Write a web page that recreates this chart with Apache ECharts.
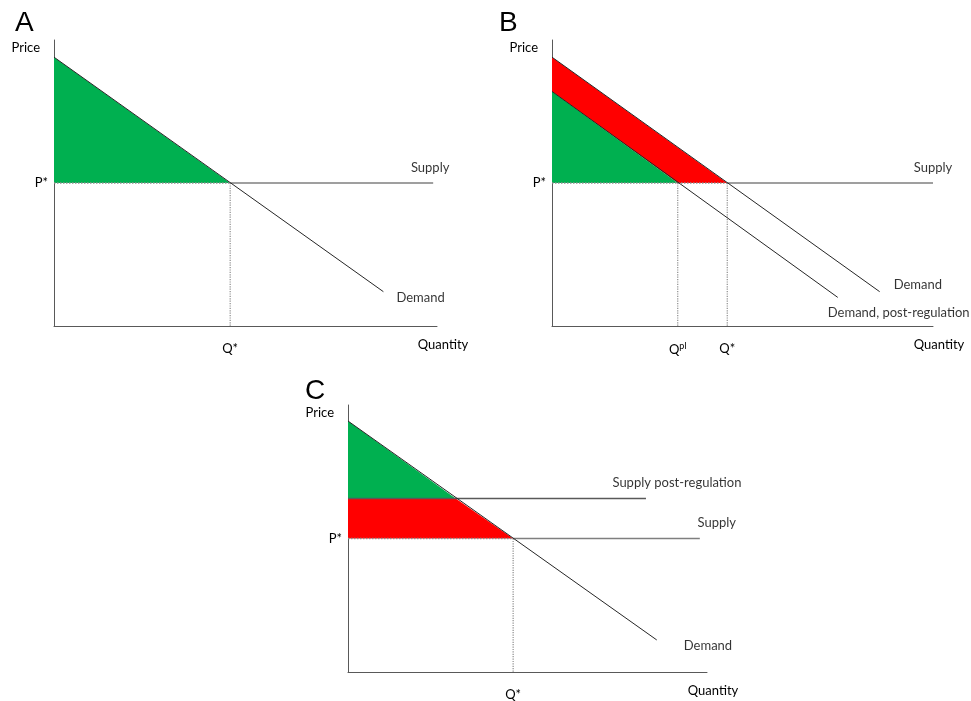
<!DOCTYPE html>
<html><head><meta charset="utf-8">
<script src="https://cdn.jsdelivr.net/npm/echarts@6/dist/echarts.min.js"></script>
<style>html,body{margin:0;padding:0;background:#fff}#c{width:971px;height:701px}</style>
</head><body><div id="c"></div>
<script>
// ---------- data (quantity, price) ----------
const pStar = 50, qStar = 46, qPl = 33, pPost = 65, qPostC = 30;
const demandA = [[0, 94], [86, 12]];
const demandB = [[0, 94], [86, 12]];
const demandPostB = [[0, 82], [75, 10]];
const demandC = [[0, 94], [86, 12]];
const supplyA = [[qStar, pStar], [99, pStar]];
const supplyB = [[qStar, pStar], [100, pStar]];
const supplyC = [[qStar, pStar], [98, pStar]];
const supplyPostC = [[0, pPost], [83, pPost]];
const greenA = [[0, 94], [qStar, pStar], [0, pStar]];
const greenB = [[0, 82], [qPl, pStar], [0, pStar]];
const redB = [[0, 94], [qStar, pStar], [qPl, pStar], [0, 82]];
const greenC = [[0, 94], [qPostC, pPost], [0, pPost]];
const redC = [[0, pPost], [qPostC, pPost], [qStar, pStar], [0, pStar]];
const panelLetters = ['A', 'B', 'C'];
const xTicks = [[qStar], [qPl, qStar], [qStar]];
const xTickLabels = [['Q*'], ['Q{sup|pl}', 'Q*'], ['Q*']];

const FONT = 'Lato';
const FS = 13;
const GREEN = '#00B050', RED = '#FF0000';
const grids = [
  {left: 54, top: 40, width: 383, height: 286},
  {left: 552, top: 40, width: 381, height: 286},
  {left: 348, top: 405, width: 359, height: 269}
];

function xAxis(i) {
  return {
    type: 'value', gridIndex: i, min: 0, max: 100,
    name: 'Quantity', nameLocation: 'end', nameGap: 6,
    nameTextStyle: {fontFamily: FONT, fontSize: FS, color: '#000', align: 'center', verticalAlign: 'top', padding: [12, 0, 0, 0]},
    axisLine: {show: true, lineStyle: {color: '#595959', width: 1}},
    axisTick: {show: false}, splitLine: {show: false},
    axisLabel: {
      show: true, customValues: xTicks[i], margin: 16,
      fontFamily: FONT, fontSize: FS, color: '#000',
      formatter: function (v) { const k = xTicks[i].indexOf(v); return k >= 0 ? xTickLabels[i][k] : ''; },
      rich: {sup: {fontFamily: FONT, fontSize: 9, verticalAlign: 'top', padding: [0, 0, 6, 0]}}
    }
  };
}
function yAxis(i) {
  return {
    type: 'value', gridIndex: i, min: 0, max: 100,
    name: 'Price', nameLocation: 'end', nameGap: -1,
    nameTextStyle: {fontFamily: FONT, fontSize: FS, color: '#000', align: 'right', verticalAlign: 'top', padding: [0, 14, 0, 0]},
    axisLine: {show: true, lineStyle: {color: '#595959', width: 1}},
    axisTick: {show: false}, splitLine: {show: false},
    axisLabel: {
      show: true, customValues: [pStar], margin: 6,
      fontFamily: FONT, fontSize: FS, color: '#000', padding: [8, 0, 0, 0],
      formatter: function (v) { return v === pStar ? 'P*' : ''; }
    }
  };
}
function poly(i, pts, color) {
  return {
    type: 'custom', xAxisIndex: i, yAxisIndex: i, data: pts, silent: true, z: 1,
    renderItem: function (params, api) {
      if (params.dataIndex !== 0) return null;
      return {type: 'polygon', shape: {points: pts.map(p => api.coord(p))}, style: {fill: color}};
    }
  };
}
function line(i, pts, color, width, type) {
  return {
    type: 'line', xAxisIndex: i, yAxisIndex: i, data: pts, symbol: 'none', silent: true, z: 3,
    lineStyle: {color: color, width: width, type: type || 'solid'}
  };
}
function lbl(i, pt, text, position, offset) {
  return {
    type: 'scatter', xAxisIndex: i, yAxisIndex: i, data: [pt], symbolSize: 0.1, silent: true, z: 4,
    itemStyle: {color: 'rgba(0,0,0,0)'},
    label: {show: true, formatter: text, position: position, offset: offset, fontFamily: FONT, fontSize: FS, color: '#000'}
  };
}
function guides(i, qs) {
  const s = [line(i, [[0, pStar], [qStar, pStar]], '#8c8c8c', 1.5, 'dotted')];
  qs.forEach(q => s.push(line(i, [[q, pStar], [q, 0]], '#8c8c8c', 1.2, 'dotted')));
  return s;
}

const series = [
  poly(0, greenA, GREEN),
  ...guides(0, [qStar]),
  line(0, supplyA, '#7f7f7f', 1.5),
  line(0, demandA, '#262626', 1),
  lbl(0, supplyA[1], 'Supply', 'top', [-3, -4]),
  lbl(0, demandA[1], 'Demand', 'right', [8, 6]),

  poly(1, redB, RED),
  poly(1, greenB, GREEN),
  ...guides(1, [qPl, qStar]),
  line(1, supplyB, '#7f7f7f', 1.5),
  line(1, demandB, '#262626', 1),
  line(1, demandPostB, '#262626', 1),
  lbl(1, supplyB[1], 'Supply', 'top', [0, -4]),
  lbl(1, demandB[1], 'Demand', 'right', [9, -7]),
  lbl(1, demandPostB[1], 'Demand, post-regulation', 'right', [-15, 15]),

  poly(2, redC, RED),
  poly(2, greenC, GREEN),
  ...guides(2, [qStar]),
  line(2, supplyC, '#7f7f7f', 1.5),
  line(2, supplyPostC, '#595959', 1.5),
  line(2, demandC, '#262626', 1),
  lbl(2, supplyC[1], 'Supply', 'top', [17, -4]),
  lbl(2, supplyPostC[1], 'Supply post-regulation', 'top', [31, -4]),
  lbl(2, demandC[1], 'Demand', 'right', [22, 6])
];

const chart = echarts.init(document.getElementById('c'), null, {renderer: 'canvas'});
chart.setOption({
  animation: false,
  backgroundColor: '#fff',
  title: [
    {text: panelLetters[0], left: 10, top: 4, textStyle: {fontFamily: 'Liberation Sans', fontSize: 28, fontWeight: 'normal', color: '#000'}},
    {text: panelLetters[1], left: 494, top: 4, textStyle: {fontFamily: 'Liberation Sans', fontSize: 28, fontWeight: 'normal', color: '#000'}},
    {text: panelLetters[2], left: 300, top: 372, textStyle: {fontFamily: 'Liberation Sans', fontSize: 28, fontWeight: 'normal', color: '#000'}}
  ],
  grid: grids,
  xAxis: [xAxis(0), xAxis(1), xAxis(2)],
  yAxis: [yAxis(0), yAxis(1), yAxis(2)],
  series: series
});
</script></body></html>
